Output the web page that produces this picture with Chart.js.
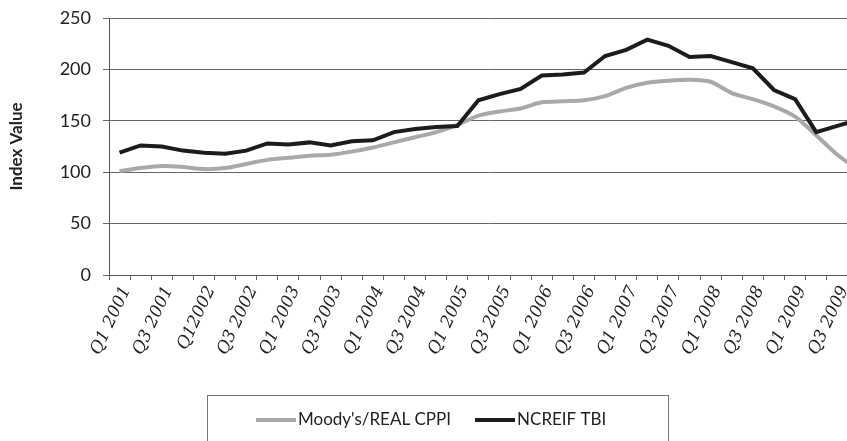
<!DOCTYPE html>
<html>
<head>
<meta charset="utf-8">
<script src="https://cdn.jsdelivr.net/npm/chart.js@4.4.0/dist/chart.umd.min.js"></script>
<style>
html, body { margin: 0; padding: 0; background: #fff; overflow: hidden; }
#caixa { position: absolute; left: 0; top: 0; width: 880px; height: 441px; }
</style>
</head>
<body>
<div id="caixa"><canvas id="grafIdx" width="880" height="441"></canvas></div>
<script>
// trimestres (o original escreve "Q12002" sem espaco)
const trimestres = [
    'Q1 2001', 'Q2 2001', 'Q3 2001', 'Q4 2001',
    'Q12002', 'Q2 2002', 'Q3 2002', 'Q4 2002',
    'Q1 2003', 'Q2 2003', 'Q3 2003', 'Q4 2003',
    'Q1 2004', 'Q2 2004', 'Q3 2004', 'Q4 2004',
    'Q1 2005', 'Q2 2005', 'Q3 2005', 'Q4 2005',
    'Q1 2006', 'Q2 2006', 'Q3 2006', 'Q4 2006',
    'Q1 2007', 'Q2 2007', 'Q3 2007', 'Q4 2007',
    'Q1 2008', 'Q2 2008', 'Q3 2008', 'Q4 2008',
    'Q1 2009', 'Q2 2009', 'Q3 2009', 'Q4 2009'
];
const moodysCppi = [101, 104, 106, 105, 103, 104, 108, 112, 114, 116, 117, 120,
    124, 129, 134, 139, 146, 155, 159, 162, 168, 169, 170, 174,
    182, 187, 189, 190, 188, 177, 171, 164, 154, 136, 117, 102];
const ncreifTbi = [119, 126, 125, 121, 119, 118, 121, 128, 127, 129, 126, 130,
    131, 139, 142, 144, 145, 170, 176, 181, 194, 195, 197, 213,
    219, 229, 223, 212, 213, 207, 201, 180, 171, 139, 145, 151];
const nomesSeries = ["Moody's/REAL CPPI", 'NCREIF TBI'];
const eixoY = { min: 0, max: 250, passo: 50 };

// legenda desenhada a mao, com moldura como no Excel
const legCaixa = {
    id: 'legCaixa',
    afterDraw(chart) {
        const c = chart.ctx;
        const ds = chart.data.datasets;
        const yMeio = 420;
        let x = 256;
        c.save();
        c.font = '17px Lato';
        c.textBaseline = 'middle';
        c.textAlign = 'left';
        ds.forEach(function(d, i) {
            c.fillStyle = d.borderColor;
            c.fillRect(x, yMeio - 2, 40, 4);
            x += 42;
            c.fillStyle = '#222';
            c.fillText(d.label, x, yMeio);
            x += c.measureText(d.label).width;
            if (i < ds.length - 1) x += 24;
        });
        c.strokeStyle = '#777';
        c.lineWidth = 1;
        c.strokeRect(207.5, 395.5, Math.round(x + 62) - 207, 80);
        c.restore();
    }
};

const ctx = document.getElementById('grafIdx').getContext('2d');
new Chart(ctx, {
    type: 'line',
    data: {
        labels: trimestres,
        datasets: [{
            label: nomesSeries[0],
            data: moodysCppi,
            borderColor: '#a9a9a9',
            backgroundColor: '#a9a9a9',
            borderWidth: 4,
            pointRadius: 0,
            tension: 0.25,
            order: 2
        }, {
            label: nomesSeries[1],
            data: ncreifTbi,
            borderColor: '#1c1c1c',
            backgroundColor: '#1c1c1c',
            borderWidth: 4,
            pointRadius: 0,
            tension: 0,
            order: 1
        }]
    },
    options: {
        responsive: false,
        animation: false,
        layout: { padding: { left: 6, right: 6, top: 18, bottom: 86 } },
        plugins: {
            tooltip: { enabled: false },
            legend: { display: false }
        },
        scales: {
            x: {
                offset: true,
                afterFit: function(s) { s.height = 80; },
                grid: { offset: true, drawOnChartArea: false, drawTicks: true, tickLength: 5, color: '#666' },
                border: { color: '#555' },
                ticks: {
                    autoSkip: false,
                    minRotation: 65,
                    maxRotation: 65,
                    padding: 3,
                    labelOffset: 7,
                    color: '#222',
                    font: { family: 'DejaVu Serif', style: 'italic', size: 17 },
                    callback: function(v, i) { return i % 2 === 0 ? trimestres[i] : ''; }
                }
            },
            y: {
                min: eixoY.min,
                max: eixoY.max,
                afterFit: function(s) { s.width = 103; },
                grid: { color: '#666', tickLength: 6 },
                border: { color: '#555' },
                ticks: {
                    stepSize: eixoY.passo,
                    padding: 12,
                    color: '#222',
                    // lineHeight pequeno so para nao empurrar o topo do grafico
                    font: { family: 'Lato', size: 18, lineHeight: 0.4 }
                },
                title: {
                    display: true,
                    text: 'Index Value',
                    color: '#222',
                    padding: { top: 0, bottom: 4 },
                    font: { family: 'Lato', size: 17, weight: 'bold' }
                }
            }
        }
    },
    plugins: [legCaixa]
});
</script>
</body>
</html>
